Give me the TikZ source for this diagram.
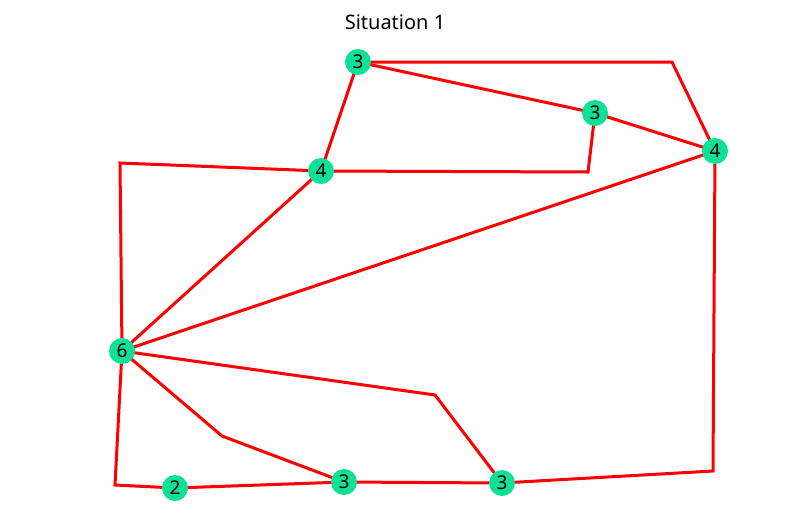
\documentclass[tikz,border=0pt]{standalone}
\usepackage{fontspec}
\setmainfont{Noto Sans}
\definecolor{nodegreen}{RGB}{14,224,152}
\definecolor{edgered}{RGB}{255,0,0}
\begin{document}
\begin{tikzpicture}[x=1pt,y=-1pt,
  vert/.style={circle,fill=nodegreen,minimum size=26pt,inner sep=0pt,font=\fontsize{19}{19}\selectfont},
  edge/.style={draw=edgered,line width=3pt,line join=miter}]
\useasboundingbox (0,0) rectangle (808,512);
\node[font=\fontsize{20}{20}\selectfont] (title) at (395,22) {Situation 1};
% bend points of the polyline edges
\coordinate (ac) at (672,62);
\coordinate (db) at (588,172);
\coordinate (de) at (120,163);
\coordinate (eh) at (435,395);
\coordinate (eg) at (222,436);
\coordinate (ef) at (115,485);
\coordinate (hc) at (713,471);
% vertex positions (edges are drawn first, vertices on top)
\coordinate (a) at (358,62);
\coordinate (b) at (595,113);
\coordinate (c) at (715,151);
\coordinate (d) at (321,171);
\coordinate (e) at (122,351);
\coordinate (f) at (175,488);
\coordinate (g) at (344,482);
\coordinate (h) at (502,483);
% edges
\draw[edge] (a) -- (ac) -- (c);
\draw[edge] (a) -- (b);
\draw[edge] (b) -- (c);
\draw[edge] (a) -- (d);
\draw[edge] (d) -- (db) -- (b);
\draw[edge] (d) -- (de) -- (e);
\draw[edge] (d) -- (e);
\draw[edge] (e) -- (c);
\draw[edge] (e) -- (eh) -- (h);
\draw[edge] (e) -- (eg) -- (g);
\draw[edge] (e) -- (ef) -- (f);
\draw[edge] (f) -- (g);
\draw[edge] (g) -- (h);
\draw[edge] (h) -- (hc) -- (c);
% vertices
\node[vert] (na) at (a) {3};
\node[vert] (nb) at (b) {3};
\node[vert] (nc) at (c) {4};
\node[vert] (nd) at (d) {4};
\node[vert] (ne) at (e) {6};
\node[vert] (nf) at (f) {2};
\node[vert] (ng) at (g) {3};
\node[vert] (nh) at (h) {3};
\end{tikzpicture}
\end{document}
